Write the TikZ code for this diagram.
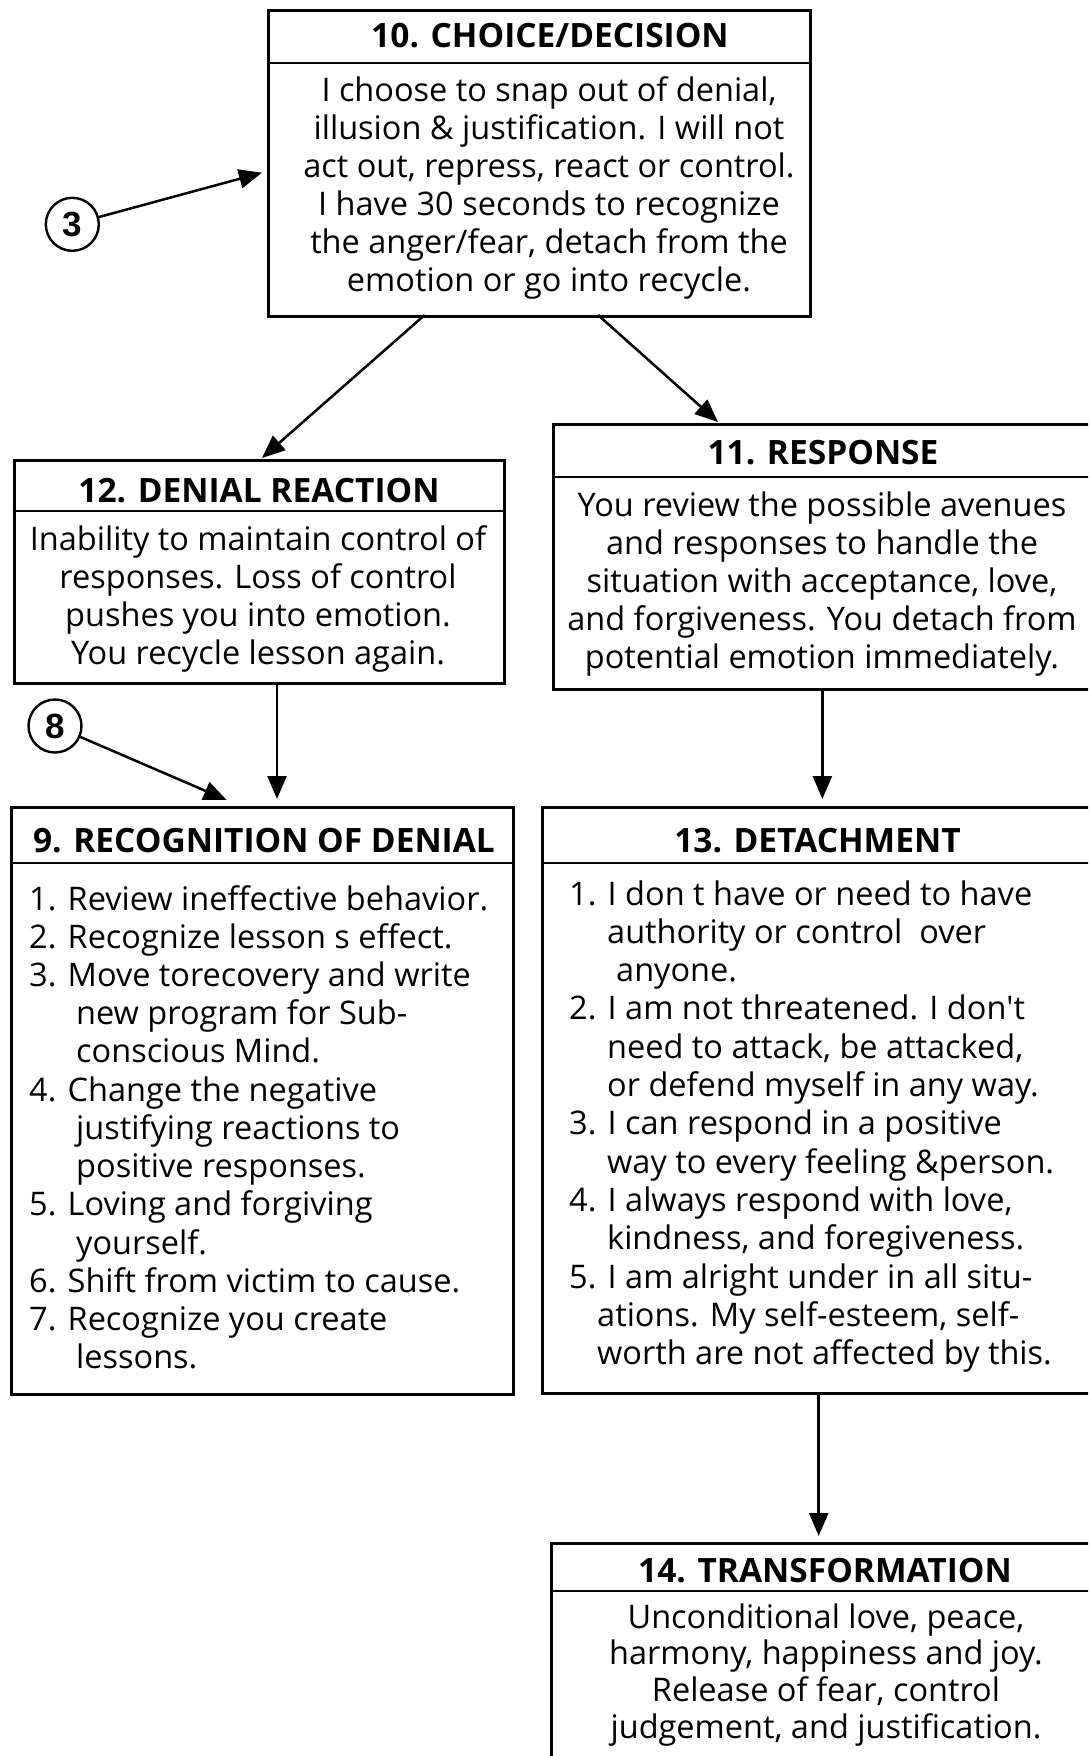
\documentclass[tikz,border=0pt]{standalone}
\usepackage{fontspec}
\setmainfont{Open Sans}
\newfontfamily\numfont{Liberation Sans}
\usetikzlibrary{arrows.meta}
\begin{document}
\begin{tikzpicture}[x=1pt,y=-1pt,
  box/.style={draw, line width=3pt, rectangle, anchor=north west, inner sep=0pt},
  ttl/.style={anchor=base, inner sep=0pt, font=\fontsize{33.5}{36}\selectfont\bfseries},
  body/.style={anchor=base, inner sep=0pt, font=\fontsize{32.5}{38}\selectfont},
  bodyl/.style={body, anchor=base west},
  sepline/.style={line width=2.5pt},
  arr/.style={line width=2.5pt, -{Triangle[length=23pt,width=19pt]}},
  num/.style={circle, draw, line width=2.4pt, minimum size=53pt, inner sep=0pt,
    font=\numfont\bfseries\fontsize{35}{35}\selectfont}]
\fill[white] (0,0) rectangle (1088,1756);
\useasboundingbox (0,0) rectangle (1088,1756);
\clip (0,0) rectangle (1088,1756);

% boxes
\node[box, minimum width=542pt, minimum height=306pt] (b10) at (267,9) {};
\node[box, minimum width=490.5pt, minimum height=223pt] (b12) at (12.5,459) {};
\node[box, minimum width=545pt, minimum height=265pt] (b11) at (551.7,423) {};
\node[box, minimum width=502pt, minimum height=587pt] (b9) at (10,806) {};
\node[box, minimum width=555pt, minimum height=586pt] (b13) at (541.3,806) {};
\node[box, minimum width=550pt, minimum height=240pt] (b14) at (549.5,1542) {};

% header separators
\draw[sepline] (b10.west |- 0,63) -- (b10.east |- 0,63);
\draw[sepline] (b12.west |- 0,511) -- (b12.east |- 0,511);
\draw[sepline] (b11.west |- 0,477) -- (b11.east |- 0,477);
\draw[sepline] (b9.west |- 0,863) -- (b9.east |- 0,863);
\draw[sepline] (b13.west |- 0,863) -- (b13.east |- 0,863);
\draw[sepline] (b14.west |- 0,1591) -- (b14.east |- 0,1591);

% titles
\node[ttl] (t10) at (550,47) {10. CHOICE/DECISION};
\node[ttl] (t12) at (259,502) {12. DENIAL REACTION};
\node[ttl] (t11) at (823,464) {11. RESPONSE};
\node[ttl] (t9) at (264,852) {9. RECOGNITION OF DENIAL};
\node[ttl] (t13) at (817.5,852) {13. DETACHMENT};
\node[ttl] (t14) at (825,1582) {14. TRANSFORMATION};

% box 10 body
\foreach \t [count=\i] in {
  {I choose to snap out of denial,},
  {illusion \& justification. I will not},
  {act out, repress, react or control.},
  {I have 30 seconds to recognize},
  {the anger/fear, detach from the},
  {emotion or go into recycle.}}
  \node[body] (l10-\i) at (549,{101+38*(\i-1)}) {\t};

% box 12 body
\foreach \t [count=\i] in {
  {Inability to maintain control of},
  {responses. Loss of control},
  {pushes you into emotion.},
  {You recycle lesson again.}}
  \node[body] (l12-\i) at (258,{550+38*(\i-1)}) {\t};

% box 11 body
\foreach \t [count=\i] in {
  {You review the possible avenues},
  {and responses to handle the},
  {situation with acceptance, love,},
  {and forgiveness. You detach from},
  {potential emotion immediately.}}
  \node[body] (l11-\i) at (822,{516+38*(\i-1)}) {\t};

% box 14 body
\foreach \t [count=\i] in {
  {Unconditional love, peace,},
  {harmony, happiness and joy.},
  {Release of fear, control},
  {judgement, and justification.}}
  \node[body] (l14-\i) at (826,{1628+36.7*(\i-1)}) {\t};

% box 9 body
\foreach \xx/\t [count=\i] in {
  29/{1. Review ineffective behavior.},
  29/{2. Recognize lesson s effect.},
  29/{3. Move torecovery and write},
  76/{new program for Sub-},
  76/{conscious Mind.},
  29/{4. Change the negative},
  76/{justifying reactions to},
  76/{positive responses.},
  29/{5. Loving and forgiving},
  76/{yourself.},
  29/{6. Shift from victim to cause.},
  29/{7. Recognize you create},
  76/{lessons.}}
  \node[bodyl] (l9-\i) at (\xx,{910+38.24*(\i-1)}) {\t};

% box 13 body
\foreach \xx/\t [count=\i] in {
  569/{1. I don t have or need to have},
  607/{authority or control\ \ over},
  616/{anyone.},
  569/{2. I am not threatened. I don\textquotesingle t},
  607/{need to attack, be attacked,},
  607/{or defend myself in any way.},
  569/{3. I can respond in a positive},
  607/{way to every feeling \&person.},
  569/{4. I always respond with love,},
  607/{kindness, and foregiveness.},
  569/{5. I am alright under in all situ-},
  597/{ations. My self-esteem, self-},
  597/{worth are not affected by this.}}
  \node[bodyl] (l13-\i) at (\xx,{905+38.3*(\i-1)}) {\t};

% numbered circles
\node[num] (c3) at (72.3,224.3) {3};
\node[num] (c8) at (55,726) {8};

% connector endpoints
\coordinate (a3) at (262,172.7);
\coordinate (a8) at (226.7,800);
\coordinate (s10l) at (424.7,315);
\coordinate (e12) at (262,458);
\coordinate (s10r) at (598,315);
\coordinate (e11) at (718,422);
\coordinate (s12) at (277,682);
\coordinate (e9) at (277,799);
\coordinate (s11) at (822.4,688);
\coordinate (e13) at (822.4,799);
\coordinate (s13) at (818.7,1392);
\coordinate (e14) at (818.7,1536);

% connectors
\draw[arr] (c3) -- (a3);
\draw[arr] (c8) -- (a8);
\draw[arr] (s10l) -- (e12);
\draw[arr] (s10r) -- (e11);
\draw[arr] (s12) -- (e9);
\draw[arr] (s11) -- (e13);
\draw[arr] (s13) -- (e14);
\end{tikzpicture}
\end{document}
